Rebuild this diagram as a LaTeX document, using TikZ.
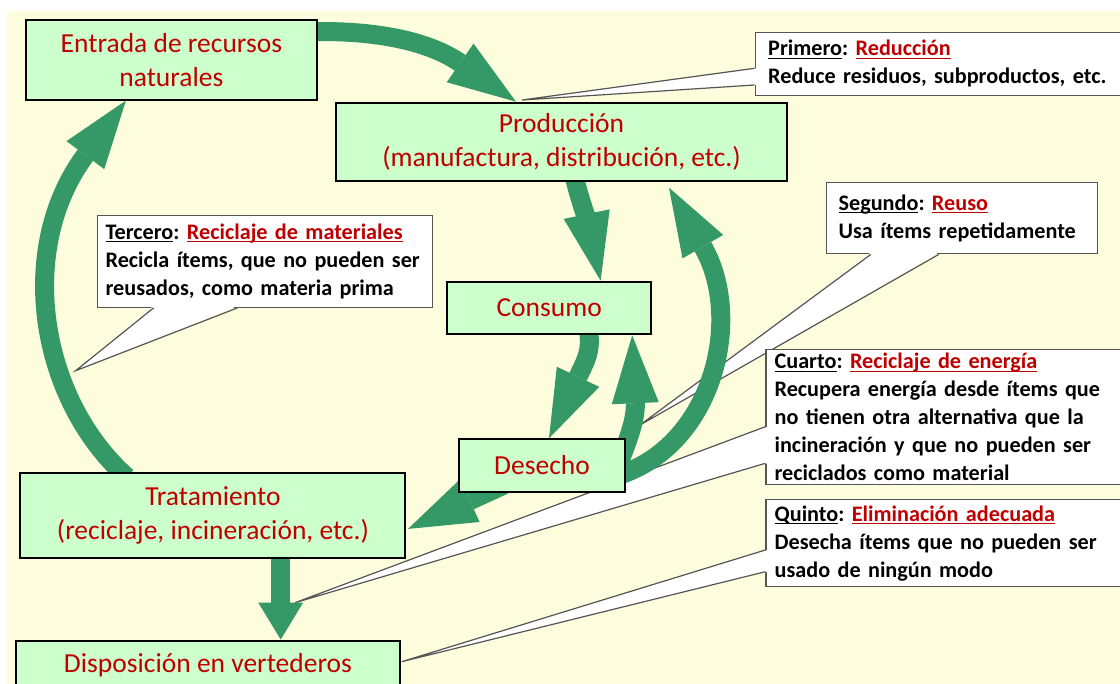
\documentclass[tikz,border=0pt]{standalone}
\usepackage{fontspec}
\setmainfont{Carlito}
\usetikzlibrary{arrows.meta,calc}
\frenchspacing

\definecolor{cream}{RGB}{253,252,220}
\definecolor{boxgreen}{RGB}{204,255,204}
\definecolor{labelred}{RGB}{192,0,0}
\definecolor{flowgreen}{RGB}{52,153,102}
\definecolor{calloutgray}{RGB}{85,85,85}

% underline at a fixed depth, in the current colour
\newcommand{\ulin}[1]{\setbox0\hbox{#1}\rlap{\rule[-3pt]{\wd0}{1.4pt}}\box0}

% pointer of a speech bubble: base points #1 and #2 on the box edge, tip #3,
% #4 shifts the white filling into the box so that the edge is covered
\newcommand{\calltail}[4]{%
  \fill[white] ($(#1)+(#4)$) -- (#3) -- ($(#2)+(#4)$) -- cycle;
  \draw[draw=calloutgray, line width=1.2pt] (#1) -- (#3) -- (#2);}

\pgfdeclarelayer{paper}
\pgfdeclarelayer{callouts}
\pgfdeclarelayer{flows}
\pgfsetlayers{paper,callouts,flows,main}

\begin{document}
\begin{tikzpicture}[x=1pt,y=-1pt,
  stage/.style={draw=black, line width=2pt, fill=boxgreen, text=labelred,
    align=center, inner sep=0pt, font=\fontsize{27.5}{34}\selectfont},
  note/.style={draw=calloutgray, line width=1.2pt, fill=white, anchor=north west,
    align=left, inner ysep=0pt, font=\fontsize{22.2}{28}\selectfont\bfseries},
  flow/.style={draw=flowgreen, line width=19pt,
    -{Triangle[length=68pt,width=47pt,line width=0pt]}},
  shortflow/.style={draw=flowgreen, line width=19pt,
    -{Triangle[length=37pt,width=45pt,line width=0pt]}},
]
\useasboundingbox (0,0) rectangle (1120,684);

% ---------- stages of the cycle ----------
\node[stage, minimum width=291, minimum height=79.5] (entrada) at (171.4,59.8)
  {Entrada de recursos\\naturales};
\node[stage, minimum width=451, minimum height=78] (prod) at (561.5,141.7)
  {Producción\\(manufactura, distribución, etc.)};
\node[stage, minimum width=204, minimum height=52.6] (consumo) at (549.2,308) {Consumo};
\node[stage, minimum width=165.4, minimum height=52.4] (desecho) at (542,465.5) {Desecho};
\node[stage, minimum width=385, minimum height=85] (trat) at (212.9,515.7)
  {Tratamiento\\(reciclaje, incineración, etc.)};
\node[stage, minimum width=384, minimum height=50] (disp) at (208,665.5)
  {Disposición en vertederos};

% ---------- background ----------
\begin{pgfonlayer}{paper}
  \fill[white] (0,0) rectangle (1120,684);
  \fill[cream] (7.3,11) rectangle (1120,684);
\end{pgfonlayer}

% ---------- flows ----------
\begin{pgfonlayer}{flows}
  \draw[flow] ($(entrada.north east)+(0,12.5)$) .. controls (380,31) and (430,42)
    .. ($(prod.north west)+(181,0)$);
  \draw[flow] ($(prod.south west)+(240,-2)$) .. controls (580,200) and (590,230)
    .. ($(consumo.north west)+(154.4,0)$);
  \draw[flow] ($(consumo.south west)+(142.7,-2)$) .. controls (591,352) and (586,360)
    .. ($(desecho.north west)+(90.7,0)$);
  \draw[flow] ($(desecho.north west)+(158.7,30)$) .. controls (628,440) and (636,420)
    .. ($(consumo.south west)+(186,0)$);
  \draw[flow] ($(desecho.north east)+(-12.7,38.7)$) .. controls (712,450) and (745,320)
    .. ($(prod.south west)+(334,6)$);
  \draw[flow] ($(desecho.south west)+(45.7,-7.7)$) -- ($(trat.north east)+(1.6,56.7)$);
  \draw[shortflow] ($(trat.south west)+(261.3,-2)$) -- ($(disp.north west)+(265.7,0)$);
  \draw[flow] ($(trat.north west)+(107.6,5)$) .. controls (40,400) and (15,250)
    .. ($(entrada.south west)+(101,0)$);
\end{pgfonlayer}

% ---------- explanatory bubbles ----------
\begin{pgfonlayer}{callouts}
  \node[note, inner xsep=13pt, text width=354, minimum height=63.3] (primero) at (754.6,31.7)
    {\mbox{\ulin{Primero}: \textcolor{labelred}{\ulin{Reducción}}}\\
     \mbox{Reduce residuos, subproductos, etc.}};
  \coordinate (primtip) at (522,100);
  \calltail{$(primero.north west)+(0,36.6)$}{$(primero.north west)+(0,53.3)$}{primtip}{2,0}

  \node[note, inner xsep=12pt, text width=247, minimum height=71.6] (segundo) at (826,181.7)
    {\mbox{\ulin{Segundo}: \textcolor{labelred}{\ulin{Reuso}}}\\
     \mbox{Usa ítems repetidamente}};
  \coordinate (segtip) at (640,425);
  \calltail{$(segundo.south west)+(44.7,0)$}{$(segundo.south west)+(112.6,0)$}{segtip}{0,-2}

  \node[note, inner xsep=8pt, text width=319, minimum height=91.7] (tercero) at (97,215)
    {\mbox{\ulin{Tercero}: \textcolor{labelred}{\ulin{Reciclaje de materiales}}}\\
     \mbox{Recicla ítems, que no pueden ser}\\
     \mbox{reusados, como materia prima}};
  \coordinate (tertip) at (75.7,370.7);
  \calltail{$(tercero.south west)+(56.6,0)$}{$(tercero.south west)+(140.5,0)$}{tertip}{0,-2}

  \node[note, inner xsep=8.6pt, text width=348, minimum height=134.7] (cuarto) at (765.4,349.3)
    {\mbox{\ulin{Cuarto}: \textcolor{labelred}{\ulin{Reciclaje de energía}}}\\
     \mbox{Recupera energía desde ítems que}\\
     \mbox{no tienen otra alternativa que la}\\
     \mbox{incineración y que no pueden ser}\\
     \mbox{reciclados como material}};
  \coordinate (cuatip) at (295,602.7);
  \calltail{$(cuarto.north west)+(0,77.4)$}{$(cuarto.north west)+(0,114)$}{cuatip}{2,0}

  \node[note, inner xsep=8.6pt, text width=348, minimum height=87] (quinto) at (765.4,499)
    {\mbox{\ulin{Quinto}: \textcolor{labelred}{\ulin{Eliminación adecuada}}}\\
     \mbox{Desecha ítems que no pueden ser}\\
     \mbox{usado de ningún modo}};
  \coordinate (quitip) at (401.7,661.7);
  \calltail{$(quinto.north west)+(0,51)$}{$(quinto.north west)+(0,72.7)$}{quitip}{2,0}
\end{pgfonlayer}
\end{tikzpicture}
\end{document}
